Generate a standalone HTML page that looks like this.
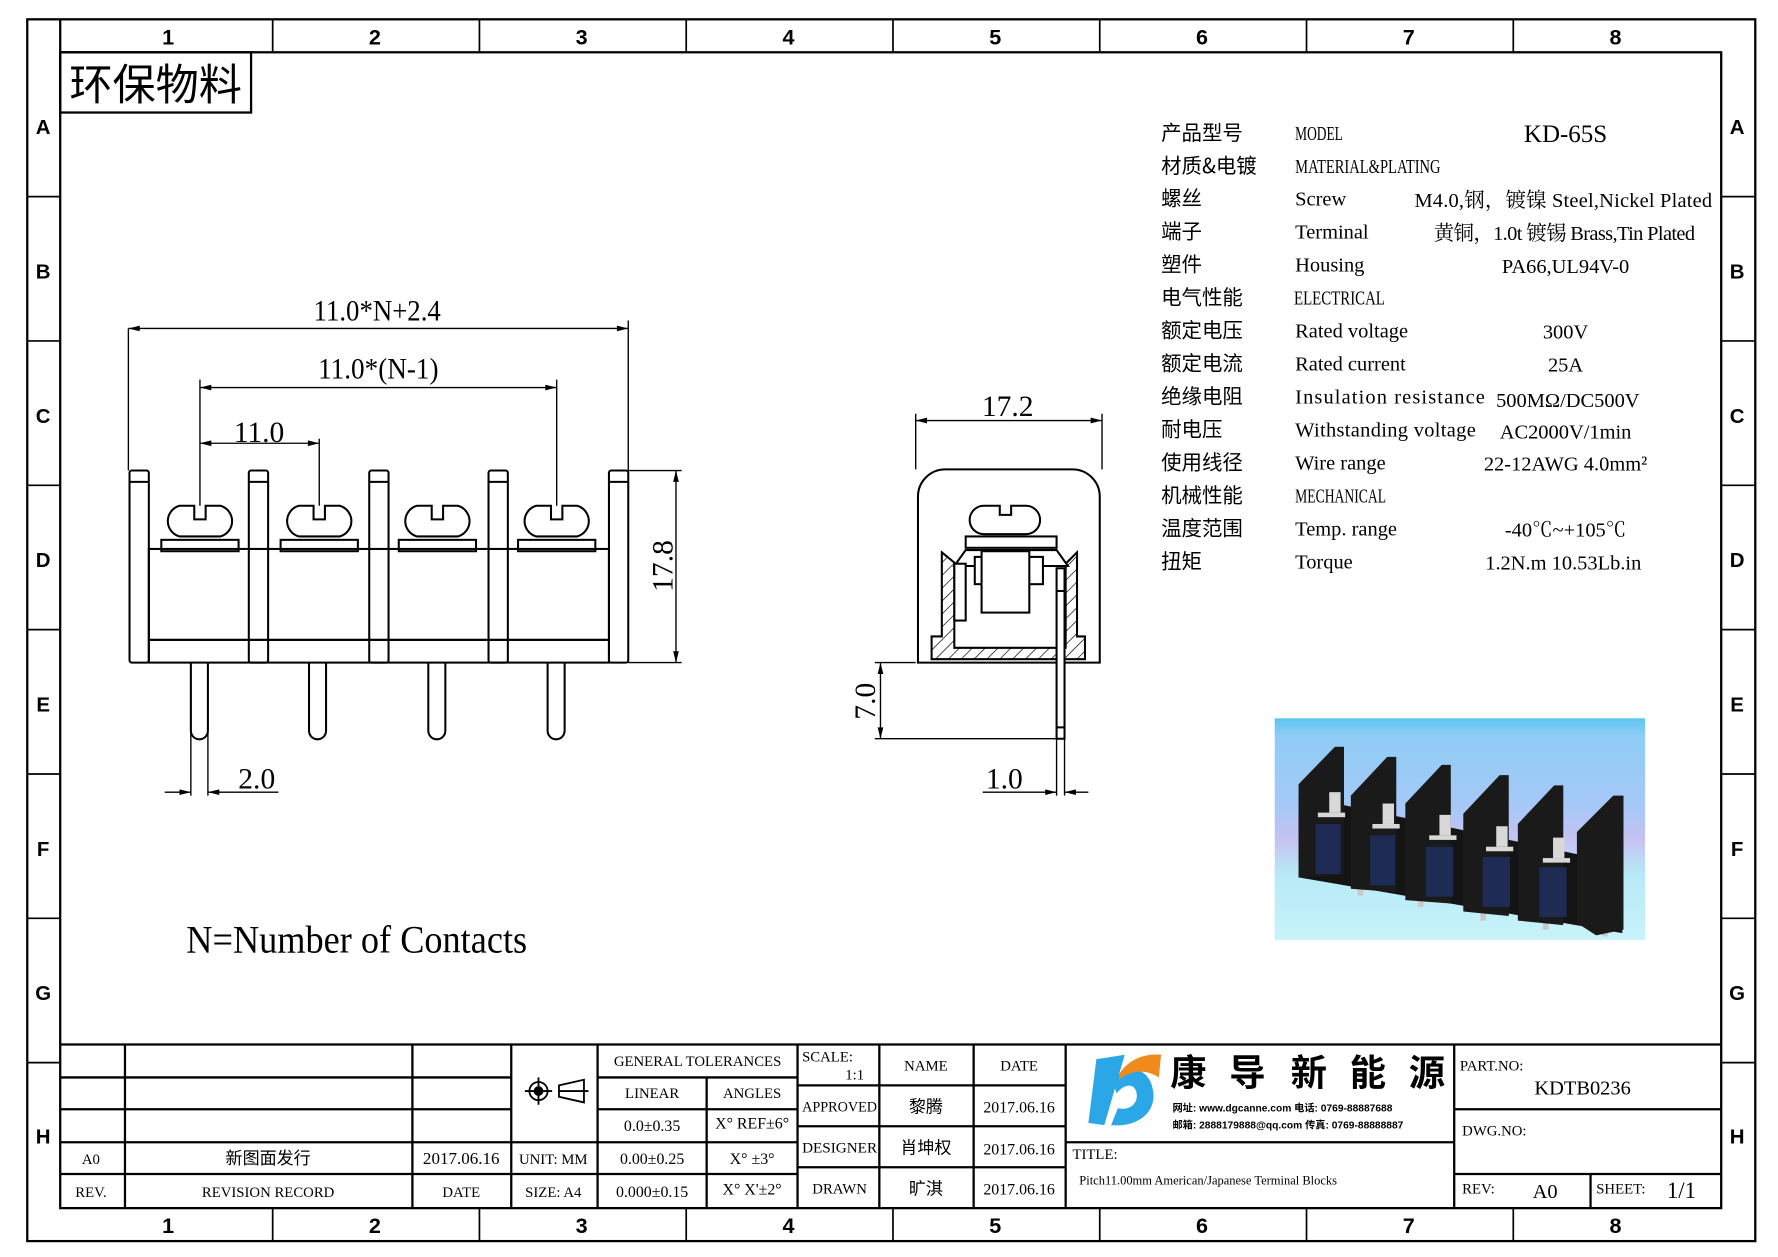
<!DOCTYPE html>
<html><head><meta charset="utf-8"><style>
html,body{margin:0;padding:0;background:#fff}
svg{display:block}
text{font-family:"Liberation Serif","Noto Serif CJK SC","Noto Sans CJK SC",serif;fill:#000}
.s,.s text{font-family:"Liberation Sans","Noto Sans CJK SC",sans-serif;font-weight:bold}
.c,.c text{font-family:"Noto Sans CJK SC","Liberation Serif",serif}
</style></head><body>
<svg width="1778" height="1257" viewBox="0 0 1565 1106" preserveAspectRatio="none" xmlns="http://www.w3.org/2000/svg">
<defs>
<pattern id="h" width="8" height="8" patternUnits="userSpaceOnUse" patternTransform="rotate(45)"><line x1="0" y1="0" x2="0" y2="8" stroke="#000" stroke-width="1.2"/></pattern>
<linearGradient id="bg" x1="0" y1="0" x2="0" y2="1"><stop offset="0" stop-color="#5fc4f0"/><stop offset="0.08" stop-color="#8fcdf6"/><stop offset="0.4" stop-color="#a6c8f7"/><stop offset="0.55" stop-color="#c7c2f2"/><stop offset="0.7" stop-color="#b6eaf6"/><stop offset="1" stop-color="#c9f3fb"/></linearGradient>
</defs>
<g fill="none" stroke="#000" stroke-width="2">
<rect x="24" y="17" width="1521" height="1075"/>
<rect x="53" y="46" width="1462" height="1017"/>
<line x1="53" y1="46" x2="53" y2="17"/>
<g stroke-width="1.5">
<path d="M240 17V46M422 17V46M604 17V46M786 17V46M968 17V46M1150 17V46M1332 17V46"/>
<path d="M240 1063V1092M422 1063V1092M604 1063V1092M786 1063V1092M968 1063V1092M1150 1063V1092M1332 1063V1092"/>
<path d="M24 173H53M24 300H53M24 427H53M24 554H53M24 681H53M24 808H53M24 935H53"/>
<path d="M1515 173H1545M1515 300H1545M1515 427H1545M1515 554H1545M1515 681H1545M1515 808H1545M1515 935H1545"/>
</g>
</g>
<g class="s" font-size="19" text-anchor="middle">
<text x="148" y="39">1</text><text x="330" y="39">2</text><text x="512" y="39">3</text><text x="694" y="39">4</text><text x="876" y="39">5</text><text x="1058" y="39">6</text><text x="1240" y="39">7</text><text x="1422" y="39">8</text>
<text x="148" y="1085">1</text><text x="330" y="1085">2</text><text x="512" y="1085">3</text><text x="694" y="1085">4</text><text x="876" y="1085">5</text><text x="1058" y="1085">6</text><text x="1240" y="1085">7</text><text x="1422" y="1085">8</text>
<g font-size="18">
<text x="38" y="118">A</text><text x="38" y="245">B</text><text x="38" y="372">C</text><text x="38" y="499">D</text><text x="38" y="626">E</text><text x="38" y="753">F</text><text x="38" y="880">G</text><text x="38" y="1006">H</text>
<text x="1529" y="118">A</text><text x="1529" y="245">B</text><text x="1529" y="372">C</text><text x="1529" y="499">D</text><text x="1529" y="626">E</text><text x="1529" y="753">F</text><text x="1529" y="880">G</text><text x="1529" y="1006">H</text>
</g></g>
<rect x="53" y="46" width="168" height="53" fill="none" stroke="#000" stroke-width="2"/>
<text x="137" y="88" font-size="38" text-anchor="middle" class="c">环保物料</text>

<g font-size="18">
<g class="c">
<text x="1022" y="123">产品型号</text><text x="1022" y="152">材质&amp;电镀</text><text x="1022" y="181">螺丝</text><text x="1022" y="210">端子</text><text x="1022" y="239">塑件</text><text x="1022" y="268">电气性能</text><text x="1022" y="297">额定电压</text><text x="1022" y="326">额定电流</text><text x="1022" y="355">绝缘电阻</text><text x="1022" y="384">耐电压</text><text x="1022" y="413">使用线径</text><text x="1022" y="442">机械性能</text><text x="1022" y="471">温度范围</text><text x="1022" y="500">扭矩</text>
</g>
<text x="1140" y="123" textLength="42" lengthAdjust="spacingAndGlyphs">MODEL</text>
<text x="1140" y="152" textLength="128" lengthAdjust="spacingAndGlyphs">MATERIAL&amp;PLATING</text>
<text x="1140" y="181">Screw</text>
<text x="1140" y="210">Terminal</text>
<text x="1140" y="239">Housing</text>
<text x="1139" y="268" textLength="80" lengthAdjust="spacingAndGlyphs">ELECTRICAL</text>
<text x="1140" y="297">Rated voltage</text>
<text x="1140" y="326">Rated current</text>
<text x="1140" y="355" textLength="167">Insulation resistance</text>
<text x="1140" y="384" textLength="159">Withstanding voltage</text>
<text x="1140" y="413">Wire range</text>
<text x="1140" y="442" textLength="80" lengthAdjust="spacingAndGlyphs">MECHANICAL</text>
<text x="1140" y="471">Temp. range</text>
<text x="1140" y="500">Torque</text>
<g text-anchor="middle">
<text x="1378" y="125" font-size="22">KD-65S</text>
<text x="1376" y="182" textLength="262">M4.0,钢，镀镍 Steel,Nickel Plated</text>
<text x="1377" y="211" textLength="230">黄铜，1.0t 镀锡 Brass,Tin Plated</text>
<text x="1378" y="240">PA66,UL94V-0</text>
<text x="1378" y="298">300V</text>
<text x="1378" y="327">25A</text>
<text x="1380" y="358">500MΩ/DC500V</text>
<text x="1378" y="386">AC2000V/1min</text>
<text x="1378" y="414">22-12AWG 4.0mm²</text>
<text x="1378" y="472">-40℃~+105℃</text>
<text x="1376" y="501">1.2N.m  10.53Lb.in</text>
</g></g>

<g fill="none" stroke="#000" stroke-width="1.8">
<rect x="131" y="483" width="405" height="80"/>
<rect x="131" y="563" width="405" height="20"/>
<g>
<rect x="114" y="414" width="17" height="169" rx="2"/><line x1="114" y1="424" x2="131" y2="424"/>
<rect x="219" y="414" width="17" height="169" rx="2"/><line x1="219" y1="424" x2="236" y2="424"/>
<rect x="325" y="414" width="17" height="169" rx="2"/><line x1="325" y1="424" x2="342" y2="424"/>
<rect x="430" y="414" width="17" height="169" rx="2"/><line x1="430" y1="424" x2="447" y2="424"/>
<rect x="536" y="414" width="17" height="169" rx="2"/><line x1="536" y1="424" x2="553" y2="424"/>
</g>
<g id="scr">
<path d="M171 445H158a14 14 0 0 0 0 27h36a14 14 0 0 0 0-27H181v12h-10z"/>
<rect x="142" y="475" width="68" height="10"/>
</g>
<use href="#scr" x="105"/><use href="#scr" x="209"/><use href="#scr" x="314"/>
<path d="M168 583V643a7.5 7.5 0 0 0 15 0V583"/>
<path d="M272 583V643a7.5 7.5 0 0 0 15 0V583"/>
<path d="M377 583V643a7.5 7.5 0 0 0 15 0V583"/>
<path d="M482 583V643a7.5 7.5 0 0 0 15 0V583"/>
</g>
<g fill="none" stroke="#000" stroke-width="1.2">
<path d="M113 414V289M553 414V282M176 445V334M490 445V334M281 445V386"/>
<path d="M113 289H553M176 341H490M176 390H281"/>
<path d="M553 414H600M553 583H600M595 414V583"/>
<path d="M168 643V700M183 643V700M145 697H168M183 697H245"/>
<path d="M806 413V364M970 413V364M806 370H970"/>
<path d="M770 583H806M770 650H930M775 583V650"/>
<path d="M930 650V700M937 650V700M865 697H930M937 697H958"/>
</g>
<g fill="#000">
<path d="M113 289l10-2.5v5zM553 289l-10-2.5v5zM176 341l10-2.5v5zM490 341l-10-2.5v5zM176 390l10-2.5v5zM281 390l-10-2.5v5z"/>
<path d="M595 414l-2.5 10h5zM595 583l-2.5-10h5zM806 370l10-2.5v5zM970 370l-10-2.5v5zM775 583l-2.5 10h5zM775 650l-2.5-10h5z"/>
<path d="M168 697l-10-2.5v5zM183 697l10-2.5v5zM930 697l-10-2.5v5zM937 697l10-2.5v5z"/>
</g>
<g font-size="26" text-anchor="middle">
<text x="332" y="282" textLength="112" lengthAdjust="spacingAndGlyphs">11.0*N+2.4</text>
<text x="333" y="333" textLength="106" lengthAdjust="spacingAndGlyphs">11.0*(N-1)</text>
<text x="228" y="389">11.0</text>
<text x="226" y="694">2.0</text>
<text x="887" y="366">17.2</text>
<text x="884" y="694">1.0</text>
<text transform="translate(592,498) rotate(-90)">17.8</text>
<text transform="translate(770,617) rotate(-90)">7.0</text>
</g>
<text x="164" y="838" font-size="34" textLength="300" lengthAdjust="spacingAndGlyphs">N=Number of Contacts</text>

<g fill="none" stroke="#000" stroke-width="1.8">
<path d="M808 583V437a24 24 0 0 1 24-24H944a24 24 0 0 1 24 24V583z"/>
<path d="M866 445a12 12 0 0 0 0 25h37a12 12 0 0 0 0-25H890v8h-10v-8z"/>
<rect x="850" y="472" width="80" height="10"/>
<path d="M829 486L840 495V570H938V496L948 486V560H955V580H820V560H829z" fill="url(#h)"/>
<path d="M840 498L850 484H930L940 498H840z" fill="#fff"/>
<rect x="840" y="496" width="10" height="50" fill="#fff"/>
<rect x="858" y="490" width="60" height="24" fill="#fff"/>
<rect x="864" y="485" width="42" height="54" fill="#fff"/>
<rect x="930" y="500" width="7" height="150" fill="#fff"/>
<line x1="930" y1="520" x2="937" y2="520"/><line x1="930" y1="640" x2="937" y2="640"/>
</g>

<!-- Photo -->
<rect x="1122" y="632" width="326" height="195" fill="url(#bg)"/>
<g fill="#c8c8c8"><rect x="1195" y="770" width="5" height="18"/><rect x="1248" y="780" width="5" height="18"/><rect x="1303" y="792" width="5" height="18"/><rect x="1358" y="800" width="5" height="18"/><rect x="1410" y="808" width="5" height="16"/></g>
<path d="M1143 700L1428 760V821L1143 772z" fill="#141414"/>
<g fill="#1a1a1a">
<path d="M1143 690L1175 657H1183V770L1143 772z"/>
<path d="M1189 700L1221 666H1229V785L1189 782z"/>
<path d="M1237 707L1269 673H1277V795L1237 792z"/>
<path d="M1288 716L1320 682H1328V806L1288 802z"/>
<path d="M1336 725L1368 691H1376V814L1336 810z"/>
<path d="M1388 732L1420 700H1429V818L1405 823L1388 812z"/>
</g>
<g fill="#1e2b55"><rect x="1158" y="725" width="22" height="44"/><rect x="1206" y="735" width="22" height="44"/><rect x="1255" y="745" width="24" height="44"/><rect x="1305" y="754" width="24" height="44"/><rect x="1355" y="763" width="24" height="44"/></g>
<g fill="#d8d8d8"><rect x="1170" y="697" width="10" height="18"/><rect x="1217" y="707" width="10" height="18"/><rect x="1267" y="717" width="10" height="18"/><rect x="1317" y="727" width="10" height="18"/><rect x="1367" y="737" width="10" height="18"/>
<rect x="1160" y="715" width="24" height="4"/><rect x="1208" y="725" width="24" height="4"/><rect x="1258" y="735" width="24" height="4"/><rect x="1308" y="745" width="24" height="4"/><rect x="1358" y="755" width="24" height="4"/></g>

<!-- Title block -->
<g fill="none" stroke="#000" stroke-width="2">
<line x1="53" y1="919" x2="1515" y2="919"/>
<path d="M110 919V1062M363 919V1062M450 919V1062M526 919V1062M702 919V1062M774 919V1062M857 919V1062M938 919V1062M1280 919V1062"/>
<path d="M622 948V1062"/>
<path d="M53 948H450M53 976H450M53 1005H450M53 1033H450"/>
<path d="M450 1005H526M450 1033H526"/>
<path d="M526 948H702M526 976H702M526 1005H702M526 1033H702"/>
<path d="M702 955H938M702 991H938M702 1027H938"/>
<path d="M938 1005H1280"/>
<path d="M1280 976H1515M1280 1033H1515M1400 1033V1062"/>
</g>
<g font-size="13" text-anchor="middle">
<text x="80" y="1024">A0</text><text x="236" y="1024" class="c" font-size="15">新图面发行</text><text x="406" y="1024" font-size="15">2017.06.16</text>
<text x="80" y="1053">REV.</text><text x="236" y="1053">REVISION RECORD</text><text x="406" y="1053">DATE</text>
<text x="487" y="1024">UNIT: MM</text><text x="487" y="1053">SIZE: A4</text>
<text x="614" y="938">GENERAL TOLERANCES</text>
<text x="574" y="966">LINEAR</text><text x="662" y="966">ANGLES</text>
<text x="574" y="995" font-size="14">0.0±0.35</text><text x="662" y="993" font-size="14">X° REF±6°</text>
<text x="574" y="1024" font-size="14">0.00±0.25</text><text x="662" y="1024" font-size="14">X° ±3°</text>
<text x="574" y="1053" font-size="14">0.000±0.15</text><text x="662" y="1051" font-size="14">X° X'±2°</text>
<text x="815" y="942">NAME</text><text x="897" y="942">DATE</text>
<text x="739" y="978" textLength="66" lengthAdjust="spacingAndGlyphs">APPROVED</text><text x="739" y="1014" textLength="66" lengthAdjust="spacingAndGlyphs">DESIGNER</text><text x="739" y="1050">DRAWN</text>
<g class="c" font-size="15"><text x="815" y="979">黎腾</text><text x="815" y="1015">肖坤权</text><text x="815" y="1051">旷淇</text></g>
<g font-size="14"><text x="897" y="979">2017.06.16</text><text x="897" y="1016">2017.06.16</text><text x="897" y="1051">2017.06.16</text></g>
<text x="1393" y="963" font-size="18">KDTB0236</text>
<text x="1360" y="1054" font-size="18">A0</text><text x="1480" y="1054" font-size="20">1/1</text>
</g>
<g font-size="13">
<text x="706" y="934">SCALE:</text><text x="744" y="950">1:1</text>
<text x="1285" y="942">PART.NO:</text><text x="1287" y="999">DWG.NO:</text>
<text x="1287" y="1050">REV:</text><text x="1405" y="1050">SHEET:</text>
<text x="944" y="1020">TITLE:</text>
<text x="950" y="1042" font-size="11">Pitch11.00mm American/Japanese Terminal Blocks</text>
</g>
<g fill="none" stroke="#000" stroke-width="1.6">
<circle cx="474" cy="960" r="8"/><circle cx="474" cy="960" r="3.5" fill="#000"/><path d="M462 960H486M474 948V972"/>
<path d="M492 955L514 950V970L492 965z"/><path d="M492 960H518"/>
</g>
<path d="M965 932L990 928L972 990L958 988z" fill="#2ba6e6"/>
<path d="M978 950C995 935 1012 940 1015 960C1018 980 1000 992 978 990L984 975C995 978 1003 970 1000 960C997 952 988 955 983 962z" fill="#2ba6e6"/>
<path d="M985 945C995 930 1010 927 1022 928L1020 948C1008 940 995 942 985 950z" fill="#f08a1c"/>
<g class="c" font-size="32" font-weight="bold"><text x="1030" y="955">康</text><text x="1082" y="955">导</text><text x="1136" y="955">新</text><text x="1188" y="955">能</text><text x="1240" y="955">源</text></g>
<g font-size="9" class="s"><text x="1032" y="978">网址: www.dgcanne.com  电话: 0769-88887688</text><text x="1032" y="993">邮箱: 2888179888@qq.com 传真: 0769-88888887</text></g>
</svg>
</body></html>
